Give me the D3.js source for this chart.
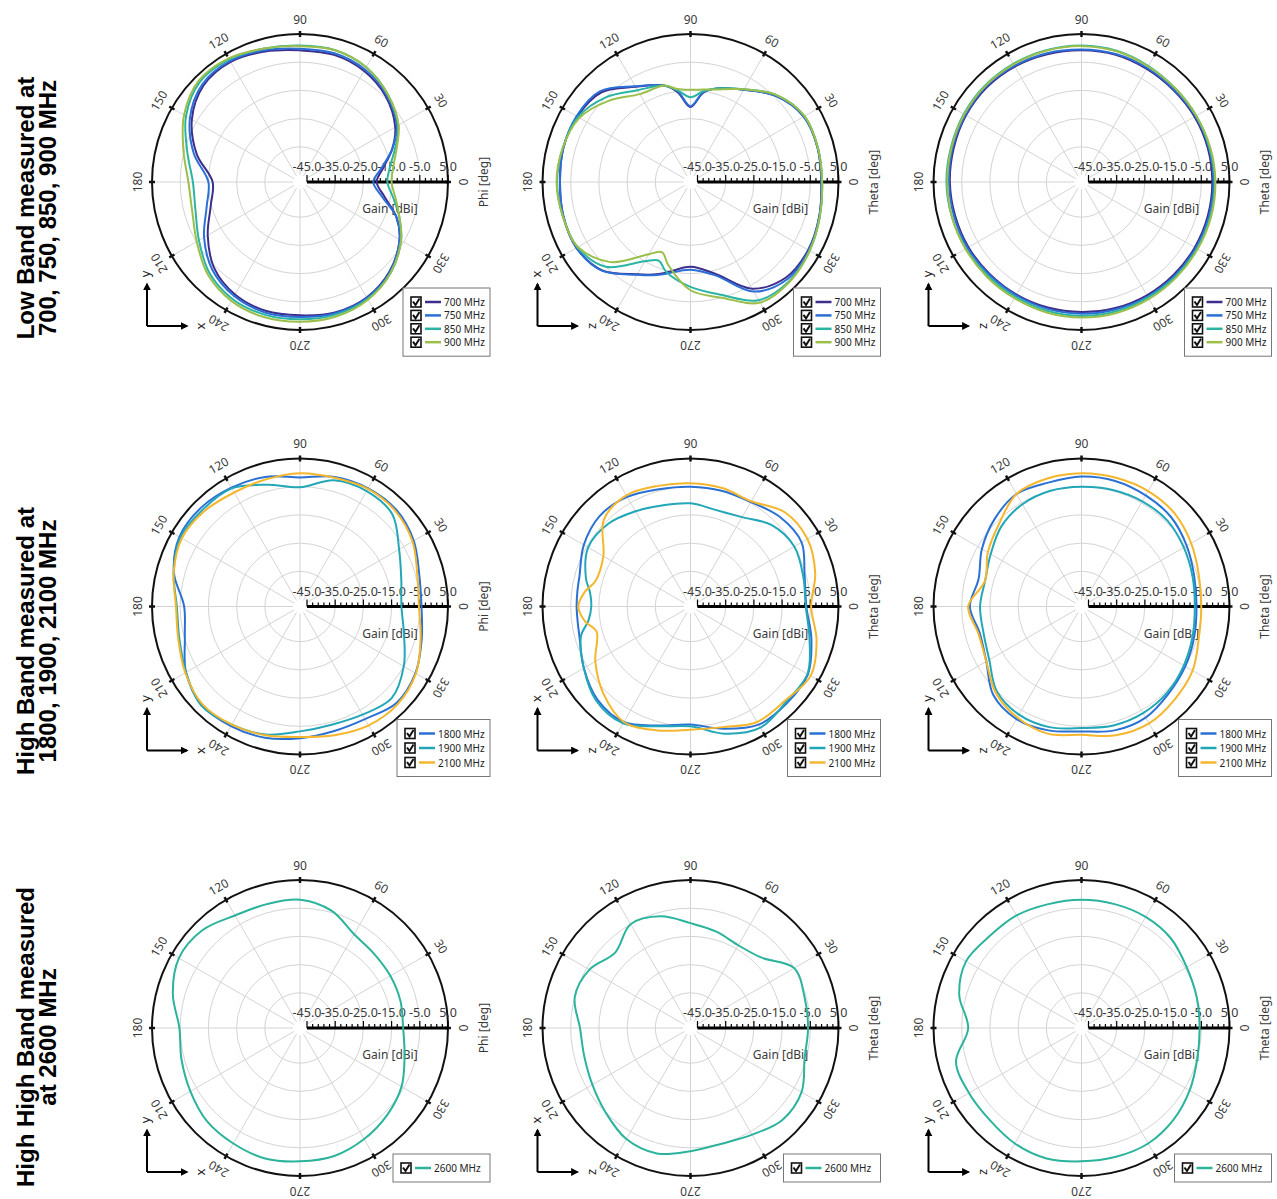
<!DOCTYPE html>
<html><head><meta charset="utf-8">
<script src="https://cdn.jsdelivr.net/npm/d3@7"></script>
<style>body{margin:0;background:#fff;} svg{display:block;}</style>
</head><body>
<svg id="chart" width="1277" height="1199"></svg>
<script>
// ---------- tick labels / categories ----------
const gainTicks = [-45, -35, -25, -15, -5, 5];
const angleTicks = [0, 30, 60, 90, 120, 150, 180, 210, 240, 270, 300, 330];
const lowBandLabels = ["700 MHz", "750 MHz", "850 MHz", "900 MHz"];
const highBandLabels = ["1800 MHz", "1900 MHz", "2100 MHz"];
const topBandLabels = ["2600 MHz"];
const rowTitles = [
  ["Low Band measured at", "700, 750, 850, 900 MHz"],
  ["High Band measured at", "1800, 1900, 2100 MHz"],
  ["High High Band measured", "at 2600 MHz"]
];
const planeTitles = ["Phi [deg]", "Theta [deg]", "Theta [deg]"];
const axisPairs = [["y", "x"], ["x", "z"], ["y", "z"]];

// ---------- series values (gain in dBi at angle in deg) ----------
const ang15 = [0,15,30,45,60,75,90,105,120,135,150,165,180,195,210,225,240,255,270,285,300,315,330,345];

const angR1C1 = [0,10,20,30,45,60,75,90,105,120,135,150,165,180,195,210,225,240,255,270,285,300,315,330,340,350];
const r1c1_700 = [-20.3,-17.4,-12.6,-8.5,-4.5,-2.0,-0.8,-0.8,0.4,1.7,0.9,-3.2,-9.6,-16.5,-14.7,-9.7,-4.4,-1.4,-0.2,-0.2,0.4,-0.2,-2.6,-6.7,-11.1,-17.0];
const r1c1_750 = [-21.5,-18.0,-12.6,-7.9,-4.0,-1.4,-0.2,-0.2,0.9,2.1,1.5,-2.4,-8.5,-15.0,-13.2,-8.2,-3.5,-0.8,0.4,0.4,0.7,0,-2.4,-6.7,-11.1,-18.0];
const r1c1_850 = [-16.5,-15.0,-11.5,-7.3,-3.5,-0.5,0.9,0.9,1.5,2.7,2.7,-0.8,-6.1,-9.5,-9.1,-6.1,-2.0,0.4,1.2,1.2,1.2,0.4,-2.0,-6.1,-9.9,-13.8];
const r1c1_900 = [-15.0,-13.8,-10.9,-7.1,-3.5,-0.5,0.9,0.7,1.5,3.1,3.3,0,-4.7,-7.9,-7.9,-5.2,-1.2,1.2,2.1,2.1,1.9,0.7,-2.0,-6.1,-9.9,-13.0];

const angR1C2 = [0,15,30,45,60,75,82,90,98,105,120,135,150,165,180,195,210,225,240,248,255,270,285,300,315,330,345];
const r1c2_700 = [-1.1,-0.8,-1.1,-4.4,-9.7,-13.2,-15.6,-20.9,-15.4,-12.1,-8.5,-2.6,-1.1,-0.8,-1.2,-0.8,-0.8,-3.2,-9.7,-12.1,-14.2,-17.4,-13.8,-3.8,0.4,0.7,-0.2];
const r1c2_750 = [-1.1,-0.8,-1.1,-4.4,-9.7,-13.2,-15.4,-20.6,-15.0,-12.1,-8.3,-2.0,-0.8,-0.8,-1.2,-0.8,-0.8,-3.0,-9.5,-11.8,-13.8,-16.4,-13.2,-2.6,1.2,0.9,-0.2];
const r1c2_850 = [-0.8,-0.7,-0.8,-4.0,-9.5,-13.2,-15.0,-17.4,-14.7,-12.1,-9.9,-5.0,-1.4,-0.6,-0.2,-0.6,-1.2,-5.0,-15.0,-17.4,-14.4,-10.3,-6.1,0.9,2.1,1.3,0];
const r1c2_900 = [-0.8,-0.7,-0.8,-4.0,-9.5,-13.5,-14.4,-14.8,-14.2,-12.1,-11.5,-6.7,-2.0,-0.6,0,-0.6,-1.4,-7.3,-17.9,-20.6,-17.0,-9.1,-5.0,1.9,2.4,1.3,0];

const r1c3_700 = [-1.1,-1.1,-1.2,-1.4,-1.2,-0.8,-0.8,-0.6,-0.2,0,-0.2,-0.6,-0.8,-1.1,-1.2,-1.4,-1.4,-1.4,-1.4,-1.2,-1.1,-1.1,-1.1,-1.1];
const r1c3_750 = [-0.7,-0.7,-0.8,-1.1,-0.8,-0.5,-0.5,-0.2,0.1,0.4,0.1,-0.2,-0.5,-0.7,-0.8,-1.1,-1.1,-0.9,-0.8,-0.7,-0.6,-0.6,-0.7,-0.7];
const r1c3_850 = [-0.2,-0.5,-0.5,-0.5,0,0.7,0.9,0.9,0.9,0.9,0.7,0.4,0.4,0.1,-0.2,-0.5,-0.5,-0.2,0,0,-0.2,-0.2,-0.2,-0.2];
const r1c3_900 = [0,-0.2,-0.5,-0.5,-0.2,0.5,0.7,0.7,0.7,0.7,0.5,0.2,0.1,0.1,0,0,0.1,0.4,0.6,0.6,0.4,0.2,0.1,0.1];

const r2c1_1800 = [-4.4,-3.7,-0.9,0.9,0.9,0.1,-1.7,0.1,1.2,2.1,1.9,-1.2,-6.4,-5.2,-0.8,1.9,1.5,0.7,-0.8,-1.7,-1.4,0.9,-0.2,-2.8];
const r2c1_1900 = [-11.5,-10.3,-6.9,-1.2,-0.2,-1.1,-5.2,-2.8,0.9,1.2,1.5,-1.1,-3.8,-3.2,-0.8,2.1,0.9,-0.5,-3.2,-4.1,-3.2,-1.5,-5.0,-9.3];
const r2c1_2100 = [-5.3,-4.4,-1.4,0.4,0.7,-0.2,-0.2,-0.8,-0.8,0.4,0.9,-1.1,-3.5,-2.8,-0.5,1.5,0.9,-0.2,-1.2,-0.2,1.2,1.5,0,-3.2];

const angR2C2 = [0,15,30,45,60,75,90,105,120,135,150,165,172,180,188,195,210,225,240,255,270,285,300,315,330,345];
const r2c2_1800 = [-6.4,-5.6,-2.0,-2.6,-4.7,-5.0,-5.0,-4.4,-2.6,-2.0,-3.8,-6.7,-7.0,-7.1,-7.1,-6.7,-3.8,-0.8,-0.2,-3.8,-5.6,-2.6,0.9,0.9,0.6,-3.1];
const r2c2_1900 = [-6.6,-6.1,-5.0,-6.7,-10.9,-12.1,-10.9,-10.3,-8.5,-6.1,-5.6,-9.1,-11.5,-12.3,-10.9,-7.3,-3.8,-0.2,0.4,-3.5,-5.0,-0.8,2.1,0.4,0.4,-3.8];
const r2c2_2100 = [-4.7,-1.7,0.4,-0.2,-4.4,-4.0,-3.8,-3.2,-2.0,-4.0,-11.8,-12.6,-9.7,-7.7,-9.7,-13.0,-8.5,-3.8,-0.2,-2.0,-3.8,-3.2,-0.2,-0.2,1.7,-1.2];

const r2c3_1800 = [-6.7,-6.1,-4.4,-2.6,-2.0,-1.4,-1.4,-2.0,-1.4,-3.8,-6.7,-9.7,-7.9,-10.2,-8.5,-3.2,-1.4,-2.0,-3.2,-2.0,-2.0,-3.8,-5.0,-6.1];
const r2c3_1900 = [-7.3,-6.7,-5.6,-4.4,-4.4,-4.7,-5.0,-5.0,-5.6,-7.3,-10.3,-12.1,-11.5,-11.5,-9.7,-5.0,-3.2,-3.2,-4.4,-3.8,-3.8,-4.4,-5.6,-6.7];
const r2c3_2100 = [-5.0,-4.4,-2.6,-0.8,-0.2,-0.2,-0.2,-0.5,-1.4,-6.1,-9.1,-12.1,-7.3,-9.7,-8.5,-4.4,-2.0,-0.8,-2.0,-0.2,0.4,-0.8,-2.0,-4.4];

const r3c1_2600 = [-10.9,-10.6,-10.5,-10.3,-9.1,-4.4,-2.0,-2.0,-1.4,1.5,2.1,-0.8,-4.7,-4.0,-2.6,-0.8,-0.2,0.4,-0.2,-0.5,-2.0,-3.8,-5.9,-9.1];
const r3c2_2600 = [-5.8,-5.6,-5.0,-12.1,-13.6,-12.1,-10.3,-6.5,-5.0,-9.7,-6.1,-5.0,-8.3,-8.5,-7.3,-5.0,-2.0,-1.4,-3.8,-5.0,-3.8,-1.4,-2.0,-5.6];
const r3c3_2600 = [-5.6,-5.2,-4.4,-2.6,-2.0,-2.0,-2.0,-2.0,-1.4,-1.4,-0.2,-2.6,-7.3,-1.4,-1.4,-1.4,-0.2,0.4,-0.2,-0.2,-0.2,-1.4,-3.2,-5.0];

// ---------- styles ----------
const lowColors = ["#3d2d8c", "#2b6fd6", "#2bb4a3", "#9cbf4b"];
const highColors = ["#2a71d4", "#22a7b8", "#f4b62c"];
const topColors = ["#2bb39c"];

const panels = [
  {row:0, col:0, angles:angR1C1, series:[r1c1_700,r1c1_750,r1c1_850,r1c1_900], labels:lowBandLabels, colors:lowColors},
  {row:0, col:1, angles:angR1C2, series:[r1c2_700,r1c2_750,r1c2_850,r1c2_900], labels:lowBandLabels, colors:lowColors},
  {row:0, col:2, angles:ang15, series:[r1c3_700,r1c3_750,r1c3_850,r1c3_900], labels:lowBandLabels, colors:lowColors},
  {row:1, col:0, angles:ang15, series:[r2c1_1800,r2c1_1900,r2c1_2100], labels:highBandLabels, colors:highColors},
  {row:1, col:1, angles:angR2C2, series:[r2c2_1800,r2c2_1900,r2c2_2100], labels:highBandLabels, colors:highColors},
  {row:1, col:2, angles:ang15, series:[r2c3_1800,r2c3_1900,r2c3_2100], labels:highBandLabels, colors:highColors},
  {row:2, col:0, angles:ang15, series:[r3c1_2600], labels:topBandLabels, colors:topColors},
  {row:2, col:1, angles:ang15, series:[r3c2_2600], labels:topBandLabels, colors:topColors},
  {row:2, col:2, angles:ang15, series:[r3c3_2600], labels:topBandLabels, colors:topColors}
];

// ---------- layout ----------
const colX = [300, 690.5, 1081.5];
const rowY = [182, 606.5, 1028];
const R0 = 7, R = 148;
const rScale = d3.scaleLinear().domain([-45, 5]).range([R0, R]);
const rad = a => a * Math.PI / 180;
const FONT = "'Noto Sans', 'Open Sans', sans-serif";

const svg = d3.select("#chart");
const defs = svg.append("defs");
defs.append("marker").attr("id", "arr").attr("viewBox", "0 0 10 10")
  .attr("refX", 8).attr("refY", 5).attr("markerWidth", 4).attr("markerHeight", 4)
  .attr("orient", "auto")
  .append("path").attr("d", "M0,0L10,5L0,10z").attr("fill", "#000");

const line = d3.lineRadial()
  .angle(d => rad(90 - d[0]))
  .radius(d => rScale(d[1]))
  .curve(d3.curveCatmullRomClosed.alpha(0.5));

function drawPanel(p) {
  const cx = colX[p.col], cy = rowY[p.row];
  const g = svg.append("g").attr("transform", `translate(${cx},${cy})`);

  // grid circles
  g.selectAll("circle.grid").data(gainTicks.slice(1, -1)).join("circle")
    .attr("class", "grid").attr("r", d => rScale(d))
    .attr("fill", "none").attr("stroke", "#d4d4d4").attr("stroke-width", 1);
  // spokes
  g.selectAll("line.spoke").data(angleTicks).join("line")
    .attr("class", "spoke")
    .attr("x1", d => R0 * Math.cos(rad(d))).attr("y1", d => -R0 * Math.sin(rad(d)))
    .attr("x2", d => R * Math.cos(rad(d))).attr("y2", d => -R * Math.sin(rad(d)))
    .attr("stroke", "#d4d4d4").attr("stroke-width", 1);
  // outer circle
  g.append("circle").attr("r", R).attr("fill", "none").attr("stroke", "#111").attr("stroke-width", 2);
  // angle ticks
  g.selectAll("line.atick").data(angleTicks).join("line")
    .attr("x1", d => (R - 3) * Math.cos(rad(d))).attr("y1", d => -(R - 3) * Math.sin(rad(d)))
    .attr("x2", d => (R + 3) * Math.cos(rad(d))).attr("y2", d => -(R + 3) * Math.sin(rad(d)))
    .attr("stroke", "#111").attr("stroke-width", 2.5);
  // angle labels
  g.selectAll("text.alab").data(angleTicks).join("text")
    .attr("transform", d => `translate(${163 * Math.cos(rad(d))},${-163 * Math.sin(rad(d))}) rotate(${90 - d})`)
    .attr("text-anchor", "middle").attr("dominant-baseline", "central")
    .attr("font-family", FONT).attr("font-size", 12).attr("fill", "#3a3a3a")
    .text(d => d);
  // plane title
  g.append("text").attr("transform", `translate(${R + 35},0) rotate(-90)`)
    .attr("text-anchor", "middle").attr("dominant-baseline", "central")
    .attr("font-family", FONT).attr("font-size", 12).attr("fill", "#3a3a3a")
    .text(planeTitles[p.col]);

  // gain axis
  g.append("line").attr("x1", rScale(-45)).attr("x2", rScale(5)).attr("y1", 0).attr("y2", 0)
    .attr("stroke", "#000").attr("stroke-width", 3);
  const minor = d3.range(-45, 5.01, 2);
  g.selectAll("line.gtick").data(minor).join("line")
    .attr("x1", d => rScale(d)).attr("x2", d => rScale(d))
    .attr("y1", 0).attr("y2", d => ((d + 45) % 10 === 0) ? -7 : -4)
    .attr("stroke", "#000").attr("stroke-width", 1.2);
  g.selectAll("text.glab").data(gainTicks).join("text")
    .attr("x", d => rScale(d)).attr("y", -11)
    .attr("text-anchor", "middle")
    .attr("font-family", FONT).attr("font-size", 12.5).attr("fill", "#3a3a3a")
    .text(d => d.toFixed(1));
  g.append("text").attr("x", 90).attr("y", 31).attr("text-anchor", "middle")
    .attr("font-family", FONT).attr("font-size", 12).attr("fill", "#3a3a3a")
    .text("Gain [dBi]");

  // curves
  p.series.forEach((vals, i) => {
    g.append("path").datum(d3.zip(p.angles, vals))
      .attr("d", line).attr("fill", "none")
      .attr("stroke", p.colors[i]).attr("stroke-width", 2);
  });

  // legend
  const n = p.labels.length;
  const lw = n === 4 ? 87 : (n === 3 ? 93 : 97);
  const step = n === 4 ? 13.4 : 14.5;
  const firstY = n === 4 ? 120 : (n === 3 ? 127 : 140);
  const lx = 190 - lw, ly = firstY - 14;
  const lh = (n - 1) * step + 28;
  const lg = g.append("g");
  lg.append("rect").attr("x", lx).attr("y", ly).attr("width", lw).attr("height", lh)
    .attr("fill", "#fff").attr("stroke", "#777").attr("stroke-width", 1);
  p.labels.forEach((lab, i) => {
    const yy = firstY + i * step;
    lg.append("rect").attr("x", lx + 8).attr("y", yy - 5).attr("width", 10).attr("height", 10)
      .attr("fill", "#fff").attr("stroke", "#111").attr("stroke-width", 1.6);
    lg.append("path").attr("d", `M${lx + 10},${yy - 0.5}L${lx + 12.5},${yy + 3}L${lx + 16.5},${yy - 3.5}`)
      .attr("fill", "none").attr("stroke", "#111").attr("stroke-width", 2);
    lg.append("line").attr("x1", lx + 22).attr("x2", lx + 38).attr("y1", yy).attr("y2", yy)
      .attr("stroke", p.colors[i]).attr("stroke-width", 2.5);
    lg.append("text").attr("x", lx + 41).attr("y", yy).attr("dominant-baseline", "central")
      .attr("font-family", FONT).attr("font-size", 10).attr("fill", "#222").text(lab);
  });

  // coordinate arrows
  const ax = -153, ay = 144;
  g.append("line").attr("x1", ax).attr("y1", ay).attr("x2", ax).attr("y2", ay - 42)
    .attr("stroke", "#000").attr("stroke-width", 2).attr("marker-end", "url(#arr)");
  g.append("line").attr("x1", ax).attr("y1", ay).attr("x2", ax + 40).attr("y2", ay)
    .attr("stroke", "#000").attr("stroke-width", 2).attr("marker-end", "url(#arr)");
  g.append("text").attr("transform", `translate(${ax - 2},${ay - 52}) rotate(-90)`)
    .attr("text-anchor", "middle").attr("dominant-baseline", "central")
    .attr("font-family", FONT).attr("font-size", 13).attr("fill", "#222")
    .text(axisPairs[p.col][0]);
  g.append("text").attr("transform", `translate(${ax + 53},${ay}) rotate(-90)`)
    .attr("text-anchor", "middle").attr("dominant-baseline", "central")
    .attr("font-family", FONT).attr("font-size", 13).attr("fill", "#222")
    .text(axisPairs[p.col][1]);
}

panels.forEach(drawPanel);

// row titles
const titleCenterY = [208, 641, 1037];
rowTitles.forEach((lines, i) => {
  lines.forEach((t, j) => {
    svg.append("text")
      .attr("transform", `translate(${25 + j * 22},${titleCenterY[i]}) rotate(-90)`)
      .attr("text-anchor", "middle").attr("dominant-baseline", "central")
      .attr("font-family", "'Liberation Sans', Arial, sans-serif").attr("font-weight", "bold")
      .attr("font-size", 24).attr("fill", "#000").text(t);
  });
});
</script>
</body></html>
